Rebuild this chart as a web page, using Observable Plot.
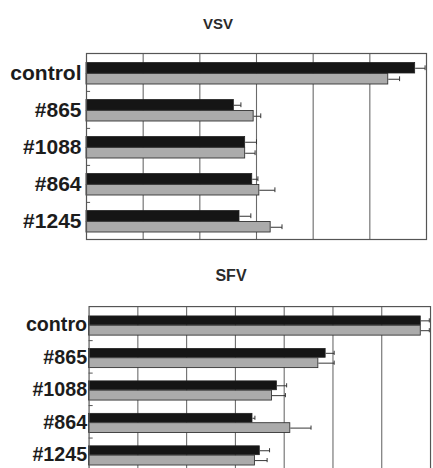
<!DOCTYPE html>
<html>
<head>
<meta charset="utf-8">
<script src="https://cdn.jsdelivr.net/npm/d3@7"></script>
<script src="https://cdn.jsdelivr.net/npm/@observablehq/plot@0.6"></script>
<style>
  html, body { margin: 0; padding: 0; background: #fff; overflow: hidden; }
  #wrap { position: relative; width: 433px; height: 468px; overflow: hidden; font-family: "Liberation Sans", Arial, sans-serif; }
  .title { position: absolute; font-weight: bold; color: #2a2a2a; transform: translate(-50%, -50%); white-space: nowrap; }
  .panel { position: absolute; left: 0; }
</style>
</head>
<body>
<div id="wrap"></div>
<script>
// ---- data ----
const categories = ["control", "#865", "#1088", "#864", "#1245"];

const vsvBlack    = [116, 52, 56, 58.5, 54];
const vsvBlackErr = [3.5, 2.5, 4, 2, 4];
const vsvGray     = [106.5, 59, 56, 61, 65];
const vsvGrayErr  = [4, 2.5, 3.5, 5.5, 4];
const vsvGrid     = [20, 40, 60, 80, 100];

const sfvBlack    = [136, 97, 77, 67, 70];
const sfvBlackErr = [3.5, 3.5, 4, 1, 4];
const sfvGray     = [136, 94, 75, 82.5, 68];
const sfvGrayErr  = [3.5, 6.5, 5.5, 8.5, 5];
const sfvGrid     = [20, 40, 60, 80, 100, 120];

const rows = (vals, errs) => categories.map((c, i) => ({cat: c, value: vals[i], err: errs[i]}));

function panel(cfg) {
  const black = rows(cfg.black, cfg.blackErr);
  const gray = rows(cfg.gray, cfg.grayErr);
  const bw = cfg.band;
  const bC = cfg.bTop + (bw - cfg.bTop - cfg.bBot) / 2;  // center of black bar within band
  const gC = cfg.gTop + (bw - cfg.gTop - cfg.gBot) / 2;  // center of gray bar within band
  const half = bw / 2;
  return Plot.plot({
    width: cfg.width,
    height: cfg.height,
    marginLeft: cfg.ml,
    marginRight: cfg.mr,
    marginTop: cfg.mt,
    marginBottom: cfg.mb,
    style: {background: "transparent", overflow: "visible", fontFamily: "'Liberation Sans', Arial, sans-serif"},
    x: {domain: cfg.domain, axis: null},
    y: {domain: categories, padding: 0, axis: null},
    marks: [
      Plot.ruleX(cfg.grid, {stroke: "#6a6a6a", strokeWidth: 1.1}),
      Plot.ruleY(categories.slice(1), {y: d => d, x1: 0, x2: cfg.domain[1] * 0.012, dy: -half, stroke: "#555"}),
      Plot.barX(black, {x: "value", y: "cat", fill: "#151515", stroke: "#222", strokeWidth: 0.8, insetTop: cfg.bTop, insetBottom: cfg.bBot}),
      Plot.barX(gray, {x: "value", y: "cat", fill: "#ababab", stroke: "#333", strokeWidth: 0.9, insetTop: cfg.gTop, insetBottom: cfg.gBot}),
      Plot.link(black, {x1: "value", x2: d => d.value + d.err, y1: "cat", y2: "cat", dy: bC - half, stroke: "#333", strokeWidth: 1}),
      Plot.link(gray, {x1: "value", x2: d => d.value + d.err, y1: "cat", y2: "cat", dy: gC - half, stroke: "#333", strokeWidth: 1}),
      Plot.tickX(black, {x: d => d.value + d.err, y: "cat", insetTop: bC - 2.5, insetBottom: bw - bC - 2.5, stroke: "#333"}),
      Plot.tickX(gray, {x: d => d.value + d.err, y: "cat", insetTop: gC - 2.5, insetBottom: bw - gC - 2.5, stroke: "#333"}),
      Plot.axisY({tickSize: 0, tickPadding: cfg.pad, fontSize: cfg.fs, fontWeight: "bold", fill: "#1c1c1c", label: null, tickFormat: cfg.fmt}),
      Plot.frame({stroke: "#555", strokeWidth: 1.2})
    ]
  });
}

const wrap = document.getElementById("wrap");

function addTitle(text, x, y, fs) {
  const t = document.createElement("div");
  t.className = "title";
  t.textContent = text;
  t.style.left = x + "px";
  t.style.top = y + "px";
  t.style.fontSize = fs + "px";
  wrap.appendChild(t);
}

// VSV panel
addTitle("VSV", 218, 23, 15);
const p1 = panel({
  width: 433, height: 250, ml: 86, mr: 7, mt: 53, mb: 11,
  domain: [0, 120], grid: vsvGrid, band: 37.2,
  bTop: 8.5, bBot: 18, gTop: 19.5, gBot: 7,
  black: vsvBlack, blackErr: vsvBlackErr, gray: vsvGray, grayErr: vsvGrayErr,
  fs: 21, pad: 5, fmt: d => d
});
p1.classList.add("panel");
p1.style.top = "0px";
wrap.appendChild(p1);

// SFV panel
addTitle("SFV", 231, 276, 16);
const p2 = panel({
  width: 440, height: 226, ml: 90, mr: 3, mt: 57, mb: 0,
  domain: [0, 140], grid: sfvGrid, band: 33.8,
  bTop: 8, bBot: 16, gTop: 17.5, gBot: 5.5,
  black: sfvBlack, blackErr: sfvBlackErr, gray: sfvGray, grayErr: sfvGrayErr,
  fs: 20, pad: 2, fmt: d => d === "control" ? "contro" : d
});
p2.classList.add("panel");
p2.style.top = "250px";
wrap.appendChild(p2);
</script>
</body>
</html>
